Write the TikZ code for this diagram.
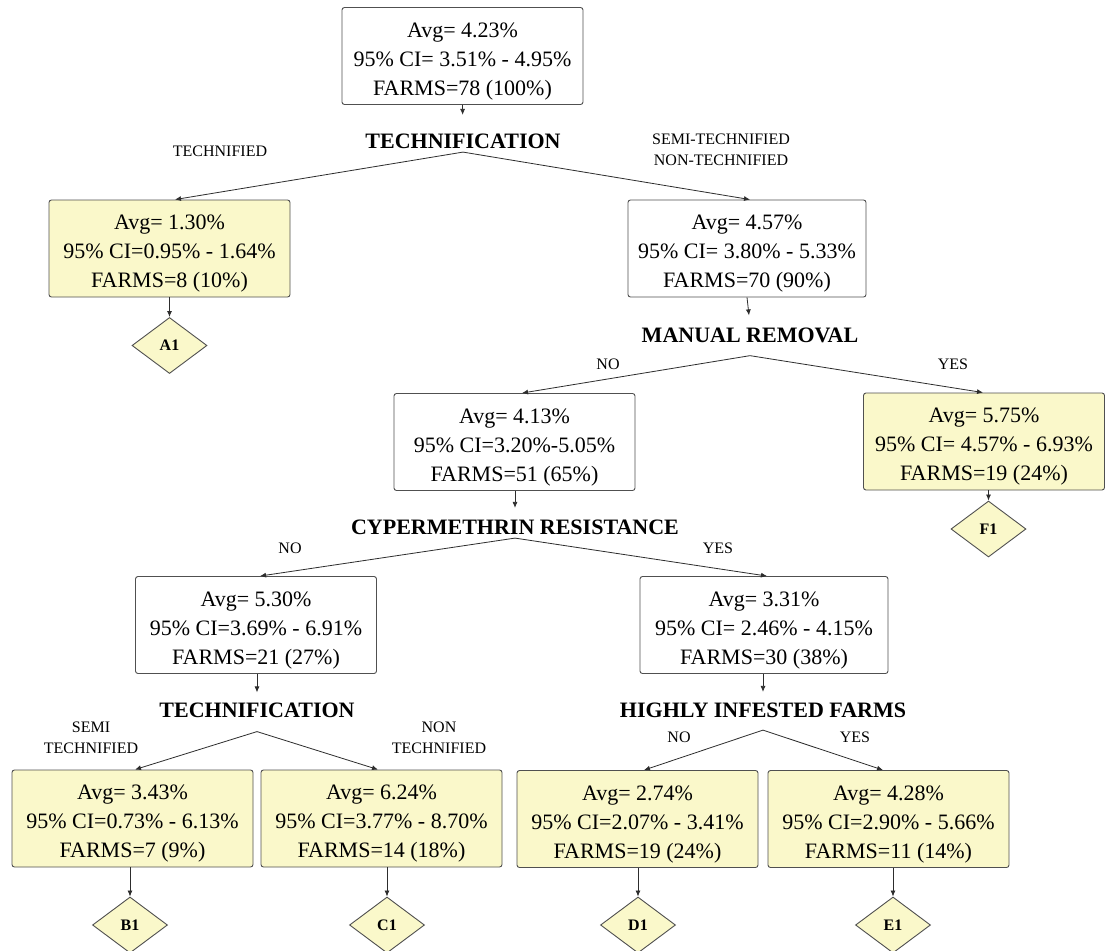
\documentclass[tikz,border=0pt]{standalone}
\usepackage{fontspec}
\setmainfont{Liberation Serif}
\usetikzlibrary{shapes.geometric,arrows.meta,calc}
\definecolor{boxfill}{RGB}{250,248,202}
\definecolor{boxline}{RGB}{80,80,80}
\definecolor{linecol}{RGB}{45,45,45}
\newcommand{\topstr}{\rule{0pt}{25pt}}
\begin{document}
\begin{tikzpicture}[x=1pt,y=-1pt,
 box/.style={draw=boxline, line width=0.9pt, rounded corners=2.5pt, minimum width=241pt, minimum height=97pt, align=center, font=\fontsize{22}{29}\selectfont, inner sep=0pt},
 leaf/.style={box, fill=boxfill},
 dia/.style={diamond, draw=boxline, line width=0.9pt, fill=boxfill, minimum width=75pt, minimum height=56pt, inner sep=0pt, font=\fontsize{16}{18}\selectfont\bfseries},
 split/.style={font=\fontsize{22}{26}\selectfont\bfseries, inner sep=3pt},
 lbl/.style={font=\fontsize{16}{21}\selectfont, align=center, inner sep=0pt},
 arr/.style={draw=linecol, line width=0.8pt, -{Latex[length=6pt,width=5pt]}},
]
\useasboundingbox[fill=white] (0,0) rectangle (1105,950);

% nodes
\node[box] (root) at (462.5,56) {\topstr Avg= 4.23\%\\95\% CI= 3.51\% - 4.95\%\\FARMS=78 (100\%)};
\node[split] (t1) at (463,141.5) {TECHNIFICATION};
\node[leaf] (a) at (169.5,248.5) {\topstr Avg= 1.30\%\\95\% CI=0.95\% - 1.64\%\\FARMS=8 (10\%)};
\node[box, minimum width=238pt] (b) at (747,248.5) {\topstr Avg= 4.57\%\\95\% CI= 3.80\% - 5.33\%\\FARMS=70 (90\%)};
\node[dia] (a1) at (169.5,345.5) {A1};
\node[split] (mr) at (750,335) {MANUAL REMOVAL};
\node[box] (c) at (514.5,442) {\topstr Avg= 4.13\%\\95\% CI=3.20\%-5.05\%\\FARMS=51 (65\%)};
\node[leaf] (f) at (984,441.5) {\topstr Avg= 5.75\%\\95\% CI= 4.57\% - 6.93\%\\FARMS=19 (24\%)};
\node[dia] (f1) at (988.5,529) {F1};
\node[split] (cr) at (515,527.5) {CYPERMETHRIN RESISTANCE};
\node[box] (d) at (256,625) {\topstr Avg= 5.30\%\\95\% CI=3.69\% - 6.91\%\\FARMS=21 (27\%)};
\node[box, minimum width=248pt] (e) at (764,625) {\topstr Avg= 3.31\%\\95\% CI= 2.46\% - 4.15\%\\FARMS=30 (38\%)};
\node[split] (t2) at (257,710) {TECHNIFICATION};
\node[split] (hi) at (763,710.5) {HIGHLY INFESTED FARMS};
\node[leaf] (g) at (132.5,818.5) {\topstr Avg= 3.43\%\\95\% CI=0.73\% - 6.13\%\\FARMS=7 (9\%)};
\node[leaf] (h) at (381.5,818.5) {\topstr Avg= 6.24\%\\95\% CI=3.77\% - 8.70\%\\FARMS=14 (18\%)};
\node[leaf] (i) at (637.5,819) {\topstr Avg= 2.74\%\\95\% CI=2.07\% - 3.41\%\\FARMS=19 (24\%)};
\node[leaf] (j) at (888.5,819) {\topstr Avg= 4.28\%\\95\% CI=2.90\% - 5.66\%\\FARMS=11 (14\%)};
\node[dia] (b1) at (130,925) {B1};
\node[dia] (c1) at (387,925) {C1};
\node[dia] (d1) at (638,925) {D1};
\node[dia] (e1) at (893,925) {E1};

% branch labels
\node[lbl] (l1) at (220,151) {TECHNIFIED};
\node[lbl] (l2) at (721,150) {SEMI-TECHNIFIED\\NON-TECHNIFIED};
\node[lbl] (l3) at (608,364) {NO};
\node[lbl] (l4) at (953,364) {YES};
\node[lbl] (l5) at (290,548) {NO};
\node[lbl] (l6) at (718,548) {YES};
\node[lbl] (l7) at (91,738) {SEMI\\TECHNIFIED};
\node[lbl] (l8) at (439,738) {NON\\TECHNIFIED};
\node[lbl] (l9) at (679,737) {NO};
\node[lbl] (l10) at (855,737) {YES};

% connectors into split labels
\draw[arr, shorten >=16pt] (root.south) -- (t1.north);
\draw[arr, shorten >=9pt] (b.south) -- (mr.north);
\draw[arr, shorten >=9pt] (c.south -| cr.north) -- (cr.north);
\draw[arr, shorten >=7pt] (d.south -| t2.north) -- (t2.north);
\draw[arr, shorten >=8pt] (e.south -| hi.north) -- (hi.north);

% branches
\draw[arr] (t1.south) -- ([xshift=5.5pt]a.north);
\draw[arr] (t1.south) -- ([xshift=3pt]b.north);
\draw[arr] ([yshift=-10pt]mr.south) -- ([xshift=7.5pt]c.north);
\draw[arr] ([yshift=-10pt]mr.south) -- ([xshift=-1pt]f.north);
\draw[arr] (cr.south) -- ([xshift=4pt]d.north);
\draw[arr] (cr.south) -- ([xshift=3pt]e.north);
\draw[arr] ([yshift=-11pt]t2.south) -- ([xshift=2.5pt]g.north);
\draw[arr] ([yshift=-11pt]t2.south) -- ([xshift=-3.5pt]h.north);
\draw[arr] ([yshift=-9pt]hi.south) -- ([xshift=6.5pt]i.north);
\draw[arr] ([yshift=-9pt]hi.south) -- ([xshift=-5.5pt]j.north);

% into leaves
\draw[arr] (a.south) -- (a1.north);
\draw[arr] (f.south -| f1.north) -- (f1.north);
\draw[arr] (g.south -| b1.north) -- (b1.north);
\draw[arr] (h.south -| c1.north) -- (c1.north);
\draw[arr] (i.south -| d1.north) -- (d1.north);
\draw[arr] (j.south -| e1.north) -- (e1.north);
\end{tikzpicture}
\end{document}
